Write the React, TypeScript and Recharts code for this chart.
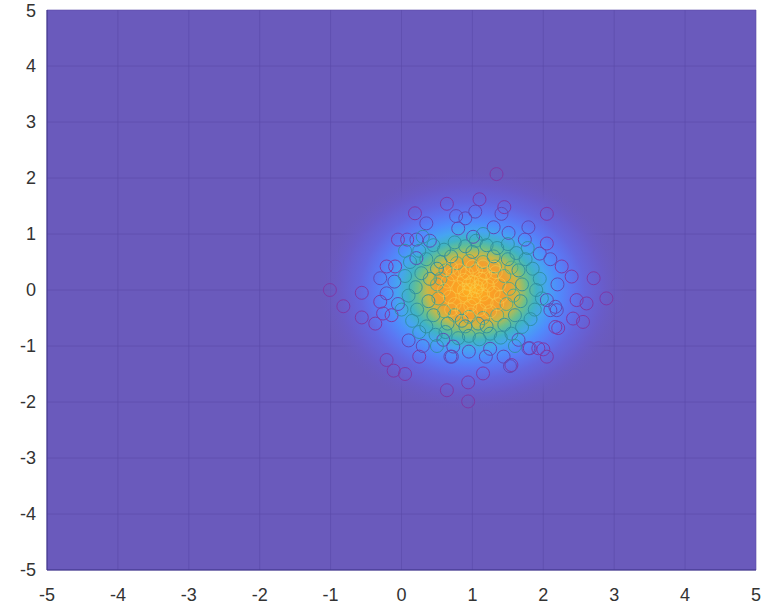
import React from 'react';
import { ScatterChart, Scatter, XAxis, YAxis, CartesianGrid, ReferenceArea } from 'recharts';

const X_TICKS = [-5, -4, -3, -2, -1, 0, 1, 2, 3, 4, 5];
const Y_TICKS = [-5, -4, -3, -2, -1, 0, 1, 2, 3, 4, 5];

// outermost, low-density samples (purple rings)
const OUTER: [number, number][] = [
  [-1.01, 0.0], [-0.82, -0.29], [-0.56, -0.05], [-0.56, -0.49], [-0.37, -0.6],
  [-0.21, -1.25], [-0.11, -1.44], [0.05, -1.5], [0.25, -1.19], [0.64, -1.79],
  [0.94, -1.65], [0.94, -1.99], [1.15, -1.49], [1.55, -1.34], [2.05, -1.19],
  [1.81, -1.04], [1.93, -1.04], [2.0, -1.06], [2.21, -0.68], [2.42, -0.51],
  [2.56, -0.57], [2.61, -0.24], [2.47, -0.18], [2.89, -0.15], [2.71, 0.21],
  [2.4, 0.24], [2.26, 0.42], [2.05, 0.83], [2.05, 1.36], [1.45, 1.48],
  [1.34, 2.07], [1.1, 1.62], [0.64, 1.54], [0.19, 1.37], [-0.21, 0.42],
  [-0.09, 0.42], [-0.05, 0.9], [0.08, 0.9], [-0.3, -0.21], [-0.26, -0.42],
  [2.17, -0.66], [-0.14, -0.45],
];

// second band (blue-purple rings)
const MID: [number, number][] = [
  [0.35, 1.19], [0.21, 0.9], [0.4, 0.88], [0.77, 1.32], [0.9, 1.28],
  [1.04, 1.4], [1.41, 1.36], [1.3, 1.12], [1.51, 1.02], [1.79, 1.12],
  [0.8, 1.1], [1.74, 0.9], [2.19, -0.36], [2.1, -0.36], [2.05, -0.18],
  [2.17, -0.3], [0.71, -1.19], [1.19, -1.19], [1.44, -1.19], [1.53, -1.36],
  [0.73, -1.01], [1.79, -1.04], [-0.3, 0.21], [-0.21, -0.06], [0.21, 0.57],
  [0.69, -1.19], [0.59, -0.89], [1.65, -0.89], [1.01, 0.95], [2.1, 0.55],
  [-0.1, 0.15], [-0.05, -0.25], [0.1, -0.9], [0.3, -1.0], [1.95, 0.65],
  [2.2, 0.1], [1.25, -1.05], [0.95, -1.1],
];

// teal band
const TEAL: [number, number][] = [
  [0.05, 0.25], [0.1, -0.1], [0.0, -0.35], [0.15, -0.55], [0.12, 0.5],
  [0.25, 0.7], [0.35, 0.55], [0.45, 0.8], [0.6, 0.72], [0.75, 0.85],
  [0.9, 0.78], [1.05, 0.88], [1.2, 0.8], [1.35, 0.75], [1.5, 0.82],
  [1.62, 0.66], [1.75, 0.55], [1.85, 0.38], [1.95, 0.2], [1.9, 0.0],
  [1.98, -0.15], [1.88, -0.35], [1.82, -0.52], [1.7, -0.66], [1.55, -0.78],
  [1.4, -0.85], [1.25, -0.78], [1.1, -0.88], [0.95, -0.82], [0.8, -0.86],
  [0.62, -0.75], [0.48, -0.8], [0.35, -0.65], [0.25, -0.75], [0.22, -0.35],
  [0.2, 0.05], [0.28, 0.3], [0.4, 0.2], [0.38, -0.2], [0.45, -0.45],
  [0.55, 0.5], [0.7, 0.6], [1.3, 0.6], [1.5, 0.55], [1.65, 0.35],
  [1.7, 0.1], [1.68, -0.2], [1.6, -0.45], [1.45, -0.62], [1.2, -0.65],
  [0.9, -0.65], [0.65, -0.6], [0.5, 0.38], [1.0, 0.68], [0.85, -0.55],
  [1.08, -0.6], [1.78, 0.75], [0.3, 0.95], [1.15, 1.0], [1.6, -1.0],
  [0.5, -1.0], [0.05, 0.7],
];

// green band, close to the centre
const GREEN: [number, number][] = [
  [0.5, 0.1], [0.52, -0.15], [0.6, -0.38], [0.62, 0.35], [0.78, 0.48],
  [0.95, 0.52], [1.15, 0.5], [1.32, 0.42], [1.45, 0.25], [1.52, 0.02],
  [1.48, -0.25], [1.35, -0.45], [1.15, -0.5], [0.95, -0.48], [0.75, -0.45],
  [0.55, 0.2], [1.55, 0.4], [1.58, -0.1],
];

// dense core
const CORE: [number, number][] = [
  [0.6, 0.0], [0.65, 0.15], [0.68, -0.12], [0.72, 0.28], [0.75, -0.25],
  [0.8, 0.05], [0.82, 0.35], [0.85, -0.35], [0.88, 0.18], [0.9, -0.1],
  [0.92, 0.3], [0.95, 0.0], [0.97, -0.28], [1.0, 0.15], [1.02, -0.15],
  [1.05, 0.35], [1.07, 0.05], [1.1, -0.35], [1.12, 0.2], [1.15, -0.08],
  [1.18, 0.3], [1.2, -0.22], [1.22, 0.08], [1.25, -0.38], [1.28, 0.22],
  [1.3, -0.05], [1.33, 0.32], [1.35, -0.25], [1.38, 0.1], [1.4, -0.12],
  [0.7, 0.4], [1.0, 0.42], [0.98, -0.42], [1.3, 0.4], [0.7, -0.35],
  [0.88, 0.0], [1.05, -0.02], [1.12, 0.1], [0.95, 0.1], [1.15, 0.42],
];

const BG = '#6a5abc';
const FONT = 'Liberation Sans, Arial, Helvetica, sans-serif';

const toData = (pts: [number, number][]) => pts.map(([x, y]) => ({ x, y }));

const ring = (color: string, opacity = 1, width = 1) => (props: any) => (
  <circle cx={props.cx} cy={props.cy} r={6.5} fill="none" stroke={color} strokeOpacity={opacity} strokeWidth={width} />
);

const tick = { fontSize: 18, fill: '#333333', fontFamily: FONT };

export default function App() {
  return (
    <div style={{ position: 'absolute', left: 0, top: 0, background: '#fff' }}>
      <ScatterChart width={778} height={606} margin={{ top: 10, right: 22, bottom: 0, left: 0 }}>
        <defs>
          <radialGradient id="glow" cx="0.5" cy="0.5" r="0.5">
            <stop offset="0" stopColor="#ffb020" />
            <stop offset="0.14" stopColor="#fa9e26" />
            <stop offset="0.23" stopColor="#f0a030" />
            <stop offset="0.29" stopColor="#c8b848" />
            <stop offset="0.35" stopColor="#6cc08a" />
            <stop offset="0.41" stopColor="#40b4c4" />
            <stop offset="0.48" stopColor="#46a4f2" />
            <stop offset="0.55" stopColor="#4f8cfc" />
            <stop offset="0.63" stopColor="#5c76f2" />
            <stop offset="0.72" stopColor="#6466de" />
            <stop offset="0.84" stopColor="#695cca" />
            <stop offset="1" stopColor={BG} stopOpacity="0" />
          </radialGradient>
        </defs>
        <CartesianGrid fill={BG} fillOpacity={1} stroke="#5a4aa8" strokeOpacity={0.6} />
        <XAxis
          type="number" dataKey="x" domain={[-5, 5]} ticks={X_TICKS} height={36}
          tick={tick} fontSize={18} tickLine={false} tickSize={6} tickMargin={12}
          axisLine={{ stroke: '#3e3488' }} allowDataOverflow
        />
        <YAxis
          type="number" dataKey="y" domain={[-5, 5]} ticks={Y_TICKS} width={47}
          tick={tick} fontSize={18} tickLine={false} tickSize={6} tickMargin={5}
          axisLine={{ stroke: '#3e3488' }} allowDataOverflow
        />
        <ReferenceArea x1={-1.2} x2={3.2} y1={-2.2} y2={2.2} fill="url(#glow)" fillOpacity={1} stroke="none" />
        <Scatter data={toData(OUTER)} shape={ring('#7e38a6')} isAnimationActive={false} />
        <Scatter data={toData(MID)} shape={ring('#6248b4')} isAnimationActive={false} />
        <Scatter data={toData(TEAL)} shape={ring('#2f8e9e', 0.9)} isAnimationActive={false} />
        <Scatter data={toData(GREEN)} shape={ring('#4aaa8a', 0.85)} isAnimationActive={false} />
        <Scatter data={toData(CORE)} shape={ring('#f6d454', 0.6, 0.8)} isAnimationActive={false} />
      </ScatterChart>
    </div>
  );
}
